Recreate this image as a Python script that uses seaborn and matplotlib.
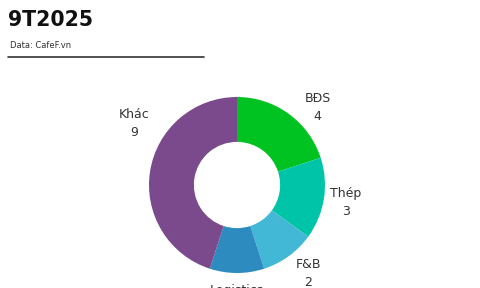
import matplotlib
matplotlib.use("Agg")
import matplotlib.pyplot as plt
import seaborn as sns
import numpy as np

categories = ["BĐS", "Thép", "F&B", "Logistics", "Khác"]
values = [4, 3, 2, 2, 9]
colors = ["#00c322", "#00c4a8", "#42b8d6", "#2e8bbf", "#7a4a8c"]
title = "9T2025"
source = "Data: CafeF.vn"

sns.set_theme(style="white")
plt.rcParams['font.family'] = ['DejaVu Sans']

W, H = 480, 288
fig = plt.figure(figsize=(W / 100, H / 100), dpi=100)

# axes centred on pie centre (237,185 px), radius 88 px
cx, cy, r = 237, 185, 88
lim = 1.4
span = 2 * lim * r
ax = fig.add_axes([(cx - span / 2) / W, (H - cy - span / 2) / H, span / W, span / H])

labels = [f"{c}\n{v}" for c, v in zip(categories, values)]
wedges, texts = ax.pie(values, colors=colors, startangle=90, counterclock=False,
                       radius=1.0, labels=labels, labeldistance=1.27,
                       wedgeprops=dict(width=0.51, linewidth=0),
                       textprops=dict(fontsize=9, color="#333333", linespacing=1.5))
ax.set_xlim(-lim, lim)
ax.set_ylim(-lim, lim)
ax.set_aspect("equal")
ax.axis("off")

# small angular nudges for label placement (degrees, clockwise)
nudges = [10, 0, -3, 0, 22]
dists = [1.27, 1.25, 1.29, 1.3, 1.36]
for w, t, nd, d in zip(wedges, texts, nudges, dists):
    mid = np.deg2rad((w.theta1 + w.theta2) / 2 - nd)
    t.set_position((d * np.cos(mid), d * np.sin(mid)))
    t.set_ha("center")
    t.set_va("center")
    t.set_clip_on(False)

fig.text(8 / W, 1 - 26 / H, title, fontsize=14.8, fontweight="bold", color="#111111",
         ha="left", va="baseline")
fig.text(10 / W, 1 - 48 / H, source, fontsize=6, color="#333333", ha="left", va="baseline")
fig.add_artist(plt.Line2D([8 / W, 204 / W], [1 - 57 / H, 1 - 57 / H], color="#333333",
                          linewidth=1.2, transform=fig.transFigure))

fig.savefig("out.png", dpi=100)
